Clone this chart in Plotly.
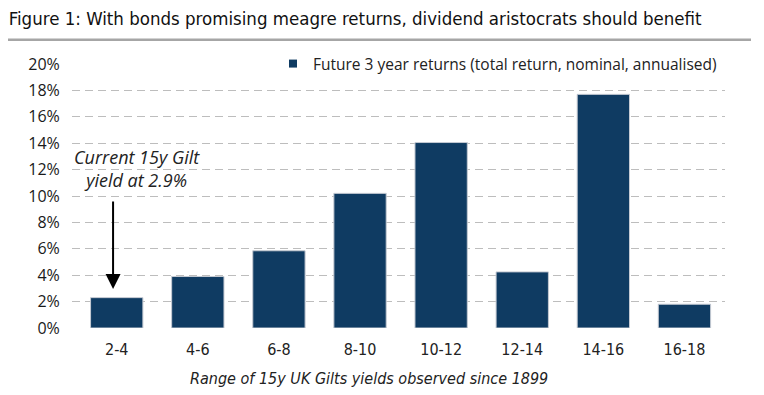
import plotly.graph_objects as go

categories = ["2-4", "4-6", "6-8", "8-10", "10-12", "12-14", "14-16", "16-18"]
returns_pct = [2.3, 3.9, 5.85, 10.2, 14.05, 4.25, 17.7, 1.8]
y_ticks = [0, 2, 4, 6, 8, 10, 12, 14, 16, 18, 20]
y_tick_labels = [f"{v}%" for v in y_ticks]
series_name = "Future 3 year returns (total return, nominal, annualised)"
title_text = "Figure 1: With bonds promising meagre returns, dividend aristocrats should benefit"
x_title = "Range of 15y UK Gilts yields observed since 1899"
note_text = "Current 15y Gilt<br>yield at 2.9%"
current_yield_pct = 2.95
arrow_tail_pct = 9.7

BAR = "#0f3b62"
COND = "Liberation Sans Narrow, DejaVu Sans Condensed, sans-serif"
BODY = "Open Sans, Noto Sans, sans-serif"

# page has an 8px body margin; figure is sized to fill the rest of the window
W, H = 756, 387
PL, PR, PT, PB = 64, 717, 56.3, 320.3  # plot area in figure px
PW, PH = PR - PL, PB - PT

fig = go.Figure()
fig.add_trace(go.Bar(
    x=categories, y=returns_pct, marker=dict(color=BAR, line=dict(color="#c5cad3", width=1)),
    showlegend=False, hoverinfo="skip"))
fig.add_trace(go.Scatter(
    x=[None], y=[None], mode="markers", name=series_name,
    marker=dict(symbol="square", size=8, color=BAR)))

fig.update_layout(
    width=W, height=H,
    margin=dict(l=PL, r=W - PR, t=PT, b=H - PB, autoexpand=False),
    paper_bgcolor="white", plot_bgcolor="white",
    bargap=0.355,
    title=dict(text=title_text, x=0.001, xanchor="left", xref="container",
               y=1 - 11 / H, yanchor="middle", yref="container",
               font=dict(family=COND, size=18.5, color="#111")),
    legend=dict(x=(273 - 72) / PW, xanchor="left", y=1.0, yanchor="middle",
                bgcolor="white", borderwidth=0, itemwidth=30,
                font=dict(family=BODY, size=15.5, color="#222"),
                tracegroupgap=0),
    xaxis=dict(type="category", showgrid=False, zeroline=False, showline=False,
               ticks="outside", ticklen=7, tickcolor="rgba(0,0,0,0)",
               tickfont=dict(family=COND, size=16, color="#222"), automargin=False),
    yaxis=dict(range=[0, 20], tickvals=y_ticks, ticktext=y_tick_labels,
               showgrid=True, gridcolor="#bdbdbd", gridwidth=1, griddash="8px,5px",
               zeroline=False, showline=False,
               ticks="outside", ticklen=8, tickcolor="rgba(0,0,0,0)",
               tickfont=dict(family=BODY, size=16, color="#1a1a1a"), automargin=False),
    font=dict(family=BODY),
)

rule_y = (PB - 32) / PH
fig.add_shape(type="line", xref="paper", yref="paper",
              x0=-PL / PW, x1=(743 - PL) / PW, y0=rule_y, y1=rule_y,
              line=dict(color="#a6a6a6", width=2.5))

fig.add_annotation(text=x_title, xref="paper", yref="paper", x=(369 - 72) / PW, y=0,
                   yanchor="middle", yshift=-50, showarrow=False,
                   font=dict(family=COND, size=16, color="#222", style="italic"))

fig.add_annotation(text=note_text, xref="x", yref="y", x=0.25, y=12.1,
                   showarrow=False, align="center",
                   font=dict(family=BODY, size=18, color="#222", style="italic"))

fig.add_annotation(x=-0.045, y=current_yield_pct, xref="x", yref="y",
                   ax=-0.045, ay=arrow_tail_pct, axref="x", ayref="y",
                   text="", showarrow=True, arrowhead=2, arrowsize=1.5,
                   arrowwidth=2, arrowcolor="black")

fig.write_html("out.html")
